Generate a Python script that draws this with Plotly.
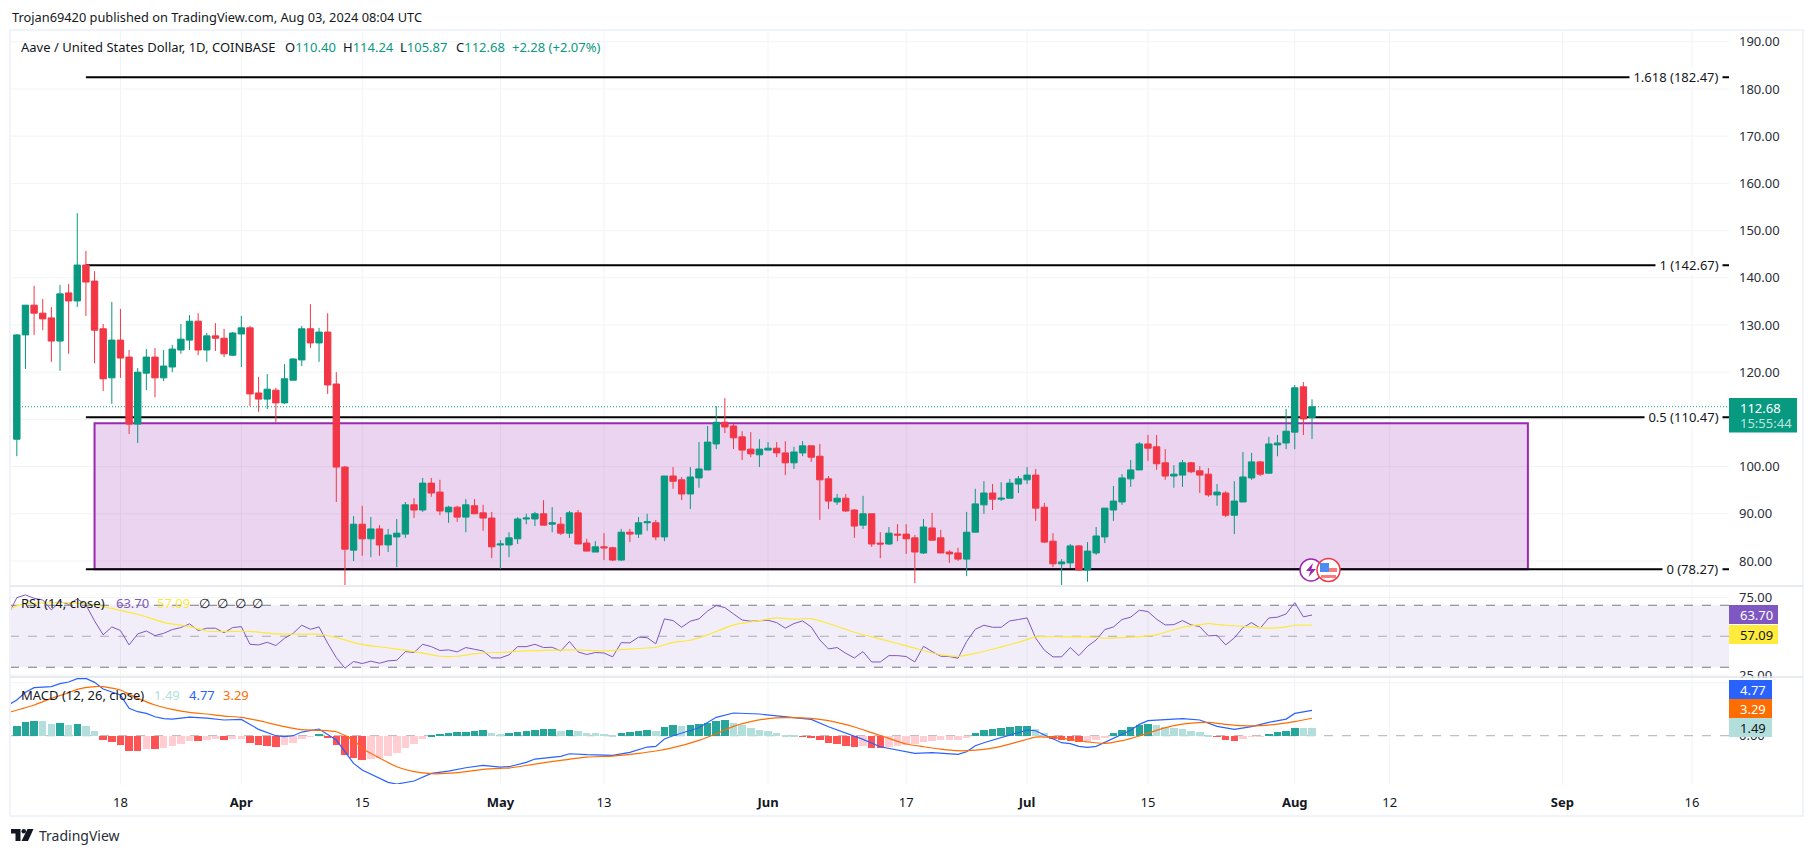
import pandas as pd
import plotly.graph_objects as go

# AAVE/USD daily (Mar 6 - Aug 3 2024), one line per month
open_px = [
    105.8,127.9,134.2,132.5,131.5,126.6,136.8,135.1,142.7,139.3,129.2,118.8,126.8,123.2,109.0,119.8,123.2,118.8,121.1,124.7,126.8,130.8,124.7,127.7,127.2,123.6,
    128.1,129.4,115.6,114.3,116.2,113.5,118.3,122.6,129.2,126.2,128.5,117.5,99.9,82.3,87.8,84.7,86.8,83.4,85.1,85.7,91.9,90.8,96.5,94.6,90.4,91.4,89.3,91.7,90.2,89.1,
    83.4,83.4,84.7,88.9,88.9,90.0,87.8,87.8,85.9,90.2,83.8,81.9,83.0,82.8,80.2,86.1,85.7,88.1,88.1,85.1,98.0,97.2,94.2,97.6,99.3,104.8,109.4,108.6,106.3,103.7,102.5,
    103.5,103.9,102.9,100.8,102.9,104.4,102.2,97.4,92.5,93.3,90.8,87.6,90.0,83.8,83.6,85.7,85.7,84.9,81.7,87.0,84.9,81.9,81.7,80.4,86.1,91.9,94.4,93.1,93.3,96.3,
    97.2,98.2,91.4,84.2,79.4,79.6,83.2,78.1,81.7,85.1,90.8,92.5,97.4,99.3,104.8,104.2,100.8,98.0,98.2,100.8,99.1,98.4,94.0,94.4,89.7,92.5,97.6,101.0,98.6,104.6,105.0,
    107.3,116.9,110.40]
high_px = [
    128.1,134.2,138.3,135.5,133.8,138.5,138.7,153.7,145.7,141.4,130.2,134.9,133.4,124.7,120.9,124.9,125.1,124.7,125.8,130.2,132.1,132.5,128.3,130.4,129.2,128.5,
    131.9,129.8,119.0,119.6,116.7,121.7,123.0,129.8,134.4,129.4,132.5,120.0,100.1,89.5,91.7,89.3,87.6,86.8,88.9,92.5,93.3,97.6,97.6,97.2,91.7,91.7,93.1,93.1,91.9,90.4,
    84.4,86.1,89.3,90.0,90.4,92.9,91.4,89.3,90.6,90.8,84.7,84.2,85.9,83.0,86.8,86.8,89.3,90.0,88.7,98.0,99.9,97.8,99.9,105.2,108.6,112.8,114.5,109.0,107.5,107.3,105.8,
    105.2,105.2,105.4,104.2,105.4,104.4,104.8,98.0,94.2,94.2,91.0,93.8,90.0,86.1,87.2,87.8,87.8,85.5,88.9,90.2,86.6,82.3,82.8,90.4,95.3,96.9,96.3,96.7,97.4,98.0,
    99.9,99.5,92.3,85.9,80.4,83.6,83.4,84.0,87.2,91.2,95.9,98.4,101.4,105.2,106.7,106.7,103.7,100.3,101.4,101.0,100.1,99.7,96.3,94.8,96.9,103.1,102.9,101.2,106.3,106.7,112.2,
    117.3,117.9,114.24]
low_px = [
    102.2,120.7,127.9,128.9,122.2,120.3,123.9,133.8,131.9,121.9,116.0,113.3,118.8,106.9,105.0,116.2,114.7,118.1,120.0,123.9,124.7,123.6,122.2,124.5,123.2,123.4,
    121.1,112.8,111.6,112.2,109.4,113.3,118.3,121.3,125.1,122.2,115.4,92.5,74.9,80.0,81.1,80.8,81.1,81.9,78.7,84.9,89.1,90.4,93.6,89.7,88.1,88.3,86.1,90.0,86.4,80.6,
    78.3,80.8,83.6,87.8,87.4,87.6,86.1,85.5,84.9,83.6,82.1,81.9,80.2,80.0,80.0,84.0,84.9,86.4,84.4,84.2,95.3,92.9,91.0,95.5,99.3,103.7,107.1,103.7,101.4,102.0,99.9,
    103.5,102.0,98.2,99.5,102.2,101.0,88.7,91.0,91.9,90.4,84.9,86.8,83.0,80.6,83.4,84.2,81.5,75.3,81.5,84.4,81.7,79.6,80.0,76.8,86.1,90.0,90.8,92.7,93.3,94.4,
    96.3,88.5,83.8,78.7,74.9,78.5,77.9,75.6,81.3,83.8,88.5,91.9,95.7,99.3,101.2,99.3,97.2,95.5,95.7,98.6,94.4,93.6,91.7,89.3,85.7,92.5,97.2,98.0,98.6,102.2,103.7,
    103.7,106.7,105.87]
close_px = [
    127.9,134.2,132.5,131.3,126.6,136.6,135.1,142.7,139.1,128.9,118.6,126.8,123.0,109.0,120.0,123.2,118.8,121.3,124.9,127.0,130.8,124.7,127.7,127.2,123.9,128.3,
    129.4,115.4,114.3,116.4,113.5,118.6,122.8,129.2,126.2,128.5,117.3,99.9,82.5,87.8,84.7,86.8,83.4,85.5,85.9,91.9,90.8,96.5,94.4,90.6,91.4,89.3,91.9,90.0,89.1,83.0,
    83.6,84.9,88.9,89.1,90.0,87.6,88.1,85.9,90.2,83.6,82.1,83.0,82.8,80.2,86.1,85.7,88.1,88.3,85.1,98.0,96.9,94.2,97.8,99.5,105.2,109.4,108.4,106.1,103.5,102.7,103.7,
    103.9,102.9,100.8,103.1,104.4,102.0,97.2,92.7,93.3,90.6,87.4,90.0,83.6,83.6,85.9,85.5,84.7,81.9,87.2,84.4,81.7,81.5,80.4,86.1,92.1,94.4,93.1,93.3,96.5,97.4,
    98.2,91.2,84.0,79.4,79.8,83.2,78.1,82.1,85.3,91.2,92.7,97.6,99.3,104.8,103.9,100.6,98.0,98.4,100.8,98.9,98.2,94.0,94.6,89.7,92.7,97.8,101.0,98.4,104.8,105.0,107.5,
    116.7,110.1,112.68]

# RSI starts one day earlier, it runs off the left edge
rsi_vals = [
    63.7,
    74.9,76.7,74.5,73.4,67.0,72.4,70.6,74.1,70.2,59.9,50.9,56.0,53.7,44.4,51.5,53.4,50.4,51.9,54.3,55.6,58.0,53.7,55.2,55.2,52.2,55.6,
    56.2,44.8,44.4,46.1,44.0,48.7,51.9,57.1,54.5,56.0,45.5,36.2,29.4,33.7,32.4,33.9,32.6,34.1,34.5,40.1,39.5,44.8,43.3,40.8,41.2,39.9,42.7,41.6,40.5,36.0,
    36.0,38.0,43.3,43.3,44.8,42.7,42.9,40.5,46.6,39.9,38.2,39.5,39.2,36.7,45.9,45.7,49.4,49.1,45.1,61.2,60.1,55.8,59.7,61.2,66.3,69.8,68.5,64.4,60.5,59.7,60.1,
    60.3,58.8,55.2,58.2,59.9,56.0,47.6,41.8,42.7,39.0,36.0,40.1,33.4,33.4,37.5,37.5,36.9,33.4,43.5,40.1,37.1,36.9,35.8,46.6,54.5,57.1,55.8,55.8,59.9,60.8,
    61.8,48.7,41.0,36.7,36.7,42.7,37.5,43.5,47.6,54.3,56.0,60.8,62.3,66.8,65.9,61.0,57.3,57.5,60.1,57.3,56.2,50.2,50.6,44.4,48.9,55.6,58.8,55.2,61.8,62.3,64.4,
    71.7,62.5,63.70]

rsi_ma_dates = ["03-05","03-06","03-07","03-09","03-12","03-15","03-18","03-20","03-23","03-26","03-28","03-30",
                "04-02","04-05","04-08","04-10","04-12","04-15","04-18","04-21","04-24","04-26","04-28","04-30",
                "05-01","05-04","05-07","05-10","05-13","05-15","05-19","05-21","05-23","05-25","05-28","05-31",
                "06-02","06-04","06-06","06-08","06-11","06-13","06-16","06-18","06-21","06-23","06-25","06-27","06-30",
                "07-02","07-05","07-08","07-10","07-13","07-16","07-19","07-22","07-24","07-26","07-29","07-31","08-01","08-03"]
rsi_ma_vals = [67.0,69.6,70.9,71.5,71.7,70.2,66.6,64.2,59.0,56.2,53.4,53.0,
               53.2,51.5,51.3,51.3,49.1,44.6,42.5,40.1,37.1,37.1,38.6,39.5,
               39.5,40.5,41.0,41.2,40.5,41.4,42.9,46.1,47.4,50.9,57.3,60.1,
               61.8,61.0,61.4,58.2,52.6,49.6,45.3,42.3,38.0,37.1,39.0,41.6,46.1,
               49.6,49.6,49.6,48.7,49.4,50.9,55.8,58.2,57.1,56.5,55.2,56.0,57.1,57.09]

macd_hist = [
    2.01,2.77,2.96,2.93,2.39,2.42,2.20,2.23,2.01,1.07,-0.63,-1.01,-1.57,-2.70,-2.72,-2.33,-2.35,-2.14,-1.76,-1.38,-0.82,-0.85,-0.63,-0.60,-0.63,-0.57,
    -0.44,-1.19,-1.57,-1.76,-1.95,-1.57,-1.19,-0.44,-0.06,0.50,-0.25,-1.57,-3.46,-4.03,-4.40,-4.21,-4.03,-3.65,-3.08,-2.14,-1.38,-0.44,0.31,0.50,0.69,0.72,0.88,1.07,1.09,0.69,
    0.50,0.53,0.88,1.07,1.26,1.28,1.30,1.07,1.26,1.07,0.69,0.67,0.50,0.31,0.69,0.88,1.07,1.26,1.07,1.82,2.20,2.01,2.20,2.23,2.58,2.96,2.98,2.58,2.20,1.64,1.26,
    1.07,0.69,0.31,0.29,-0.06,-0.25,-0.63,-1.19,-1.38,-1.76,-1.95,-1.93,-2.14,-2.16,-1.95,-1.76,-1.57,-1.55,-1.01,-0.82,-0.80,-0.78,-0.63,-0.38,0.69,1.26,1.45,1.64,1.82,1.84,
    2.01,1.45,0.69,-0.44,-0.69,-0.82,-1.13,-1.07,-0.63,-0.19,0.69,1.26,1.82,2.20,2.39,2.20,1.82,1.51,1.45,1.07,0.88,0.31,-0.06,-0.63,-0.82,-0.44,-0.06,-0.05,0.50,0.88,1.07,
    1.64,1.62,1.49]

macd_dates = ["03-05","03-06","03-07","03-08","03-10","03-11","03-12","03-13","03-14","03-15","03-16","03-17","03-18","03-19","03-20","03-21","03-22","03-23","03-24","03-26","03-28","03-30",
              "04-01","04-03","04-05","04-06","04-07","04-08","04-10","04-12","04-13","04-14","04-15","04-16","04-18","04-19","04-21","04-23","04-25","04-27","04-29",
              "05-01","05-02","05-04","05-05","05-08","05-09","05-11","05-14","05-16","05-18","05-19","05-20","05-21","05-23","05-24","05-26","05-28","05-31",
              "06-02","06-03","06-06","06-08","06-10","06-12","06-14","06-16","06-18","06-20","06-22","06-23","06-24","06-25","06-26","06-28","06-29",
              "07-01","07-02","07-03","07-05","07-06","07-07","07-08","07-09","07-11","07-12","07-13","07-14","07-15","07-17","07-19","07-21","07-23","07-25","07-27","07-29","07-31",
              "08-01","08-02","08-03"]
macd_vals = [5.79,6.73,8.18,9.06,9.25,9.81,10.13,10.75,10.82,10.06,8.81,8.18,7.67,5.16,4.53,4.21,3.58,3.21,3.14,3.52,3.33,2.96,
             3.08,1.19,0.0,-0.19,0.0,0.69,1.26,-0.82,-3.02,-5.22,-6.48,-7.30,-8.81,-9.12,-8.55,-7.11,-6.67,-6.04,-5.60,
             -5.91,-5.85,-5.03,-4.40,-3.90,-3.40,-3.58,-3.71,-3.14,-2.14,-2.01,-0.63,0.0,0.94,1.51,3.46,4.28,4.09,
             3.77,3.52,3.08,1.70,0.57,-0.69,-2.08,-2.77,-3.33,-3.21,-3.46,-3.52,-3.02,-1.89,-1.32,-0.38,0.13,
             1.07,0.94,0.13,-1.32,-1.51,-2.01,-2.20,-2.01,-0.50,0.13,1.01,2.14,2.83,3.02,3.21,2.96,1.76,1.19,1.70,2.52,3.14,
             4.21,4.47,4.77]

signal_dates = ["03-05","03-08","03-10","03-12","03-13","03-15","03-16","03-18","03-19","03-22","03-24","03-26","03-28","03-30",
                "04-01","04-03","04-06","04-08","04-10","04-12","04-14","04-15","04-17","04-19","04-21","04-23","04-26","04-29",
                "05-01","05-02","05-05","05-08","05-11","05-14","05-17","05-19","05-21","05-24","05-26","05-28","05-30",
                "06-01","06-03","06-06","06-08","06-11","06-13","06-15","06-17","06-19","06-21","06-23","06-24","06-26","06-28","06-30",
                "07-02","07-04","07-06","07-08","07-10","07-12","07-14","07-16","07-18","07-20","07-22","07-24","07-26","07-28","07-30",
                "08-01","08-03"]
signal_vals = [4.34,5.79,7.04,8.11,8.74,9.25,9.25,8.62,7.80,5.79,4.97,4.40,4.09,3.71,
               3.46,2.83,1.70,1.13,1.01,0.75,-0.82,-2.39,-4.21,-5.85,-6.79,-7.17,-6.98,-6.35,
               -6.16,-6.10,-5.35,-4.65,-4.03,-3.84,-3.33,-2.89,-2.26,-0.88,0.38,1.76,2.64,
               3.21,3.40,3.27,2.83,1.64,0.57,-0.50,-1.57,-2.08,-2.52,-2.83,-2.83,-2.58,-2.01,-1.13,
               -0.25,-0.31,-0.69,-1.19,-1.45,-0.94,-0.06,1.01,1.89,2.39,2.52,2.14,1.89,1.89,2.20,
               2.64,3.29]

fib_levels = [182.47, 142.67, 110.47, 78.27]
fib_labels = ["1.618 (182.47)", "1 (142.67)", "0.5 (110.47)", "0 (78.27)"]
box_top = 109.2

price_ticks = list(range(80, 200, 10))
# 110.00 sits behind the last price box, 10.00 behind the MACD box
price_labels = [p for p in price_ticks if p != 110]
time_ticks = ["2024-03-18","2024-04-01","2024-04-15","2024-05-01","2024-05-13","2024-06-01","2024-06-17",
              "2024-07-01","2024-07-15","2024-08-01","2024-08-12","2024-09-01","2024-09-16"]
time_labels = ["18","<b>Apr</b>","15","<b>May</b>","13","<b>Jun</b>","17","<b>Jul</b>","15","<b>Aug</b>","12","<b>Sep</b>","16"]

GREEN = "#089981"
RED = "#F23645"
TEXT = "#131722"
GRID = "#F2F3F5"
FONT = "Noto Sans"

# browser keeps its default 8px body margin, so page pixels are shifted by that
OFF = 8
W, H = 1798, 839
def px(x):
    return (x - OFF) / W
def py(y):
    return 1 - (y - OFF) / H

dates = pd.date_range("2024-03-06", "2024-08-03")
ind_dates = pd.date_range("2024-03-05", "2024-08-03")
X_RANGE = ["2024-03-05 05:00", "2024-09-20 07:00"]

hist_colors = []
for i, v in enumerate(macd_hist):
    rising = i == 0 or v > macd_hist[i - 1]
    if v >= 0:
        hist_colors.append("#26A69A" if rising else "#B2DFDB")
    else:
        hist_colors.append("#FFCDD2" if rising else "#FF5252")

fig = go.Figure()
fig.add_trace(go.Candlestick(
    x=dates, open=open_px, high=high_px, low=low_px, close=close_px,
    increasing=dict(line=dict(color=GREEN, width=1), fillcolor=GREEN),
    decreasing=dict(line=dict(color=RED, width=1), fillcolor=RED),
    whiskerwidth=0, yaxis="y"))
fig.add_trace(go.Scatter(x=ind_dates, y=rsi_vals, mode="lines", yaxis="y2",
                         line=dict(color="#7E57C2", width=1)))
fig.add_trace(go.Scatter(x=["2024-" + d for d in rsi_ma_dates], y=rsi_ma_vals, mode="lines", yaxis="y2",
                         line=dict(color="#FDE83B", width=1.2, shape="spline", smoothing=0.5)))
fig.add_trace(go.Bar(x=dates, y=macd_hist, yaxis="y3", width=75000000,
                     marker=dict(color=hist_colors, line=dict(width=0))))
fig.add_trace(go.Scatter(x=["2024-" + d for d in macd_dates], y=macd_vals, mode="lines", yaxis="y3",
                         line=dict(color="#2962FF", width=1.2)))
fig.add_trace(go.Scatter(x=["2024-" + d for d in signal_dates], y=signal_vals, mode="lines", yaxis="y3",
                         line=dict(color="#FF6D00", width=1.2, shape="spline", smoothing=0.5)))

shapes = []
# grid drawn first so the fib lines sit on top of it
for t in time_ticks:
    for yr in ["y domain", "y2 domain", "y3 domain"]:
        shapes.append(dict(type="line", xref="x", yref=yr, x0=t, x1=t, y0=0, y1=1, layer="below",
                           line=dict(color=GRID, width=1)))
for p in price_ticks:
    shapes.append(dict(type="line", xref="x domain", yref="y", x0=0, x1=1, y0=p, y1=p, layer="below",
                       line=dict(color=GRID, width=1)))
for p in [75, 25]:
    shapes.append(dict(type="line", xref="x domain", yref="y2", x0=0, x1=1, y0=p, y1=p, layer="below",
                       line=dict(color=GRID, width=1)))
shapes.append(dict(type="line", xref="x domain", yref="y3", x0=0, x1=1, y0=10, y1=10, layer="below",
                   line=dict(color=GRID, width=1)))

shapes.append(dict(type="rect", xref="x", yref="y", x0="2024-03-15", x1="2024-08-28", y0=fib_levels[3], y1=box_top,
                   layer="below", fillcolor="rgba(156,39,176,0.2)", line=dict(color="#9C27B0", width=2)))
for lv in fib_levels:
    shapes.append(dict(type="line", xref="x", yref="y", x0="2024-03-14", x1=X_RANGE[1], y0=lv, y1=lv,
                       layer="below", line=dict(color="#000000", width=2)))
shapes.append(dict(type="line", xref="x domain", yref="y", x0=0, x1=1, y0=close_px[-1], y1=close_px[-1],
                   layer="below", line=dict(color=GREEN, width=1, dash="1px,2px")))

# RSI band and level lines
shapes.append(dict(type="rect", xref="x domain", yref="y2", x0=0, x1=1, y0=30, y1=70, layer="below",
                   fillcolor="rgba(126,87,194,0.1)", line=dict(width=0)))
for lvl, col in [(70, "#787B86"), (50, "rgba(120,123,134,0.6)"), (30, "#787B86")]:
    shapes.append(dict(type="line", xref="x domain", yref="y2", x0=0, x1=1, y0=lvl, y1=lvl, layer="below",
                       line=dict(color=col, width=1, dash="dash")))
shapes.append(dict(type="line", xref="x domain", yref="y3", x0=0, x1=1, y0=0, y1=0, layer="below",
                   line=dict(color="rgba(120,123,134,0.6)", width=1, dash="dash")))

def box(x0, y0, x1, y1, color):
    return dict(type="rect", xref="paper", yref="paper", x0=px(x0), x1=px(x1), y0=py(y1), y1=py(y0),
                fillcolor=color, line=dict(width=0), layer="above")

def poly(points, color):
    d = "M" + " L".join(f"{px(a):.5f},{py(b):.5f}" for a, b in points) + " Z"
    return dict(type="path", xref="paper", yref="paper", path=d, fillcolor=color, line=dict(width=0), layer="above")

# frame and pane separators
shapes.append(dict(type="rect", xref="paper", yref="paper", x0=px(10), x1=px(1803), y0=py(816), y1=py(30),
                   line=dict(color="#F0F3FA", width=2), layer="above"))
for yy in [586, 677]:
    shapes.append(dict(type="line", xref="paper", yref="paper", x0=px(10), x1=px(1803), y0=py(yy), y1=py(yy),
                       line=dict(color="#E0E3EB", width=1.5), layer="above"))

# value boxes on the price scale
shapes.append(box(1729, 678, 1800, 680, "#FFFFFF"))
shapes.append(box(1729, 398, 1797, 432.5, GREEN))
shapes.append(box(1729, 605, 1778, 624, "#7E57C2"))
shapes.append(box(1729, 625, 1778, 644, "#FFEB3B"))
shapes.append(box(1729, 680, 1772, 699, "#2962FF"))
shapes.append(box(1729, 699, 1772, 718, "#FF6D00"))
shapes.append(box(1729, 718, 1772, 737, "#B2DFDB"))

# event badges
shapes.append(dict(type="circle", xref="paper", yref="paper", x0=px(1300), x1=px(1322), y0=py(581), y1=py(559),
                   fillcolor="#FFFFFF", line=dict(color="#9C27B0", width=1.5), layer="above"))
shapes.append(poly([(1313, 563), (1306, 571), (1310.5, 571), (1308.5, 577), (1316, 569), (1311.5, 569)], "#9C27B0"))
shapes.append(dict(type="circle", xref="paper", yref="paper", x0=px(1317), x1=px(1340), y0=py(581.5), y1=py(558.5),
                   fillcolor="#FFFFFF", line=dict(color="#F23645", width=1.5), layer="above"))
shapes.append(box(1320, 563, 1329, 572, "#4D8CF5"))
shapes.append(box(1329, 568, 1337, 572, "#F77C80"))
shapes.append(box(1321, 575, 1336, 578, "#F77C80"))

# TradingView logo
shapes.append(poly([(11, 829), (20.5, 829), (20.5, 841), (15.5, 841), (15.5, 833.5), (11, 833.5)], "#131722"))
shapes.append(dict(type="circle", xref="paper", yref="paper", x0=px(21.5), x1=px(26), y0=py(833.5), y1=py(829),
                   fillcolor="#131722", line=dict(width=0), layer="above"))
shapes.append(poly([(27.5, 829), (33.5, 829), (28, 841), (21.5, 841)], "#131722"))

annos = []
def note(x, y, text, size=13, color=TEXT, anchor="left", **kw):
    annos.append(dict(xref="paper", yref="paper", x=px(x), y=py(y), text=text, showarrow=False, xanchor=anchor,
                      yanchor="middle", font=dict(family=FONT, size=size, color=color), borderpad=0, **kw))

def span(text, color):
    return f'<span style="color:{color}">{text}</span>'

note(11, 17, "Trojan69420 published on TradingView.com, Aug 03, 2024 08:04 UTC", size=12.8)
note(20, 47, "Aave / United States Dollar, 1D, COINBASE")
for xx, lab, val in [(284, "O", "110.40"), (341.5, "H", "114.24"), (399, "L", "105.87"), (454.5, "C", "112.68")]:
    note(xx, 47, lab + span(val, GREEN))
note(511, 47, "+2.28 (+2.07%)", color=GREEN)

note(20, 603, "RSI (14, close)")
note(115, 603, "63.70", color="#7E57C2")
note(156, 603, "57.09", color="#FDE83B")
note(198, 603, "∅&nbsp;&nbsp;∅&nbsp;&nbsp;∅&nbsp;&nbsp;∅")
note(20, 695, "MACD (12, 26, close)")
note(153, 695, "1.49", color="#B2DFDB")
note(188, 695, "4.77", color="#2962FF")
note(222, 695, "3.29", color="#FF6D00")

note(1739, 408, "112.68", color="#FFFFFF")
note(1739, 423, "15:55:44", color="#BFE5DF")
note(1739, 615, "63.70", color="#FFFFFF")
note(1739, 635, "57.09", color="#131722")
note(1739, 690, "4.77", color="#FFFFFF")
note(1739, 709, "3.29", color="#FFFFFF")
note(1739, 728, "1.49", color="#131722")
note(38, 835, "TradingView", size=14, color="#2A2E39")

for lv, lab in zip(fib_levels, fib_labels):
    annos.append(dict(xref="paper", yref="y", x=px(1723), y=lv, text="&nbsp;" + lab + "&nbsp;", showarrow=False,
                      xanchor="right", yanchor="middle", bgcolor="#FFFFFF", borderpad=0,
                      font=dict(family=FONT, size=13, color="#131722")))

axis_font = dict(family=FONT, size=13, color="#2A2E39")
def yaxis(dom, rng, ticks):
    return dict(domain=[py(dom[1]), py(dom[0])], range=rng, side="right", anchor="x", showgrid=False, zeroline=False,
                tickmode="array", tickvals=ticks, tickformat=".2f", ticks="", ticklabelstandoff=9,
                tickfont=axis_font, showline=False, fixedrange=True)

fig.update_layout(
    width=W, height=H, margin=dict(l=0, r=0, t=0, b=0, autoexpand=False),
    paper_bgcolor="#FFFFFF", plot_bgcolor="#FFFFFF",
    showlegend=False, boxgap=0.26, boxgroupgap=0, bargap=0,
    xaxis=dict(domain=[px(10), px(1729)], range=X_RANGE, type="date", anchor="y3", rangeslider=dict(visible=False),
               showgrid=False, zeroline=False, tickmode="array", tickvals=time_ticks, ticktext=time_labels,
               ticks="", ticklabelstandoff=9, tickfont=dict(family=FONT, size=13, color=TEXT), showline=False),
    yaxis=yaxis((30, 585.5), [74.81, 192.5], price_labels),
    yaxis2=yaxis((586.5, 677), [23.7, 82.1], [25, 75]),
    yaxis3=yaxis((677.5, 784), [-9.11, 10.98], [0]),
    shapes=shapes, annotations=annos,
)

fig.write_html("out.html")
